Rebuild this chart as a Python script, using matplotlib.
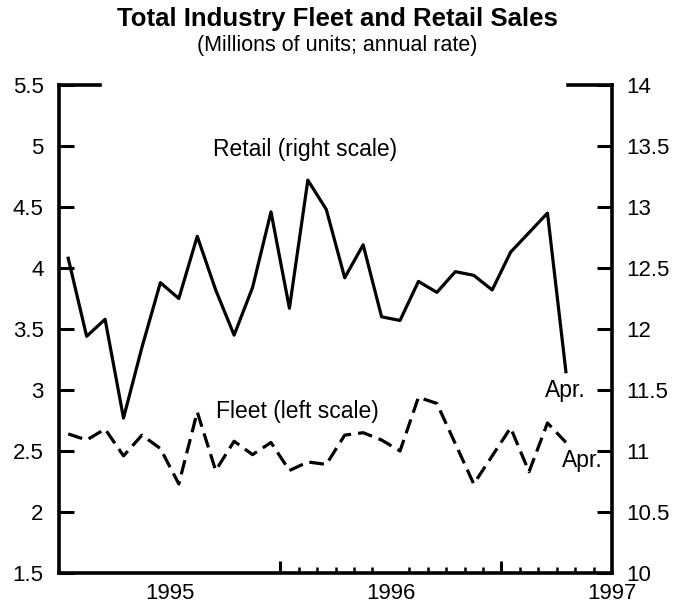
import matplotlib
matplotlib.use("Agg")
import matplotlib.pyplot as plt
import numpy as np
import pandas as pd

# monthly observations, Jan 1995 - Apr 1997
months = pd.period_range("1995-01", "1997-04", freq="M")

# retail sales, right scale (millions, annual rate)
retail = [12.58, 11.94, 12.08, 11.27, 11.85, 12.38, 12.25, 12.76, 12.32, 11.95,
          12.34, 12.96, 12.17, 13.22, 12.98, 12.42, 12.69, 12.10, 12.07, 12.39,
          12.30, 12.47, 12.44, 12.32, 12.63, 12.79, 12.95, 11.65]

# fleet sales, left scale
fleet = [2.64, 2.59, 2.68, 2.46, 2.63, 2.52, 2.23, 2.82, 2.34, 2.58,
         2.47, 2.57, 2.34, 2.41, 2.39, 2.63, 2.65, 2.59, 2.50, 2.94,
         2.89, 2.56, 2.23, 2.46, 2.69, 2.33, 2.73, 2.57]

left_ticks = [1.5, 2, 2.5, 3, 3.5, 4, 4.5, 5, 5.5]
right_ticks = [10, 10.5, 11, 11.5, 12, 12.5, 13, 13.5, 14]
year_labels = ["1995", "1996", "1997"]

FONT = "Liberation Sans"
plt.rcParams["font.family"] = [FONT, "DejaVu Sans"]
LABEL_SIZE = 16
NOTE_SIZE = 16.5

# month index from Jan 1995, plotted at mid-month
x = np.array([(p.year - 1995) * 12 + p.month - 1 for p in months]) + 0.5

fig = plt.figure(figsize=(6.75, 6.10), dpi=100)
ax = fig.add_axes([59 / 675, 1 - 573 / 610, 553 / 675, 488 / 610])
ax2 = ax.twinx()

lw = 2.3
ax.plot(x, fleet, color="black", linewidth=lw, linestyle=(0, (4.6, 2.2)))
ax2.plot(x, retail, color="black", linewidth=lw)

ax.set_xlim(0, 30)
ax.set_ylim(1.5, 5.5)
ax2.set_ylim(10, 14)

ax.set_yticks(left_ticks, labels=[f"{v:g}" for v in left_ticks])
ax2.set_yticks(right_ticks, labels=[f"{v:g}" for v in right_ticks])
ax.tick_params(axis="y", direction="in", length=11, width=2.2, pad=11, labelsize=LABEL_SIZE)
ax2.tick_params(axis="y", direction="in", length=11, width=2.2, pad=10, labelsize=LABEL_SIZE)

# year labels centred in each year, month ticks from 1996 on
ax.set_xticks([6, 18, 30], labels=year_labels)
ax.set_xticks(np.arange(12, 30), minor=True)
ax.tick_params(axis="x", which="major", length=0, pad=7, labelsize=LABEL_SIZE)
ax.tick_params(axis="x", which="minor", direction="in", length=4, width=1.8)
sec = ax.secondary_xaxis("bottom")
sec.set_xticks([12, 24], labels=["", ""])
sec.tick_params(direction="in", length=9, width=2.2)
for s in sec.spines.values():
    s.set_visible(False)

for name in ["top", "right"]:
    ax.spines[name].set_visible(False)
for name in ["top", "left", "bottom"]:
    ax2.spines[name].set_visible(False)
for s in [ax.spines["left"], ax.spines["bottom"], ax2.spines["right"]]:
    s.set_linewidth(2.6)

# long top ticks at the ends of each scale
ax.axhline(5.5, xmin=0, xmax=0.074, color="black", linewidth=2.6, clip_on=False)
ax2.axhline(14, xmin=0.92, xmax=1, color="black", linewidth=2.6, clip_on=False)

ax2.text(13.35, 13.47, "Retail (right scale)", ha="center", va="center", fontsize=NOTE_SIZE)
ax.text(8.5, 2.82, "Fleet (left scale)", ha="left", va="center", fontsize=NOTE_SIZE)
ax2.text(28.55, 11.5, "Apr.", ha="right", va="center", fontsize=NOTE_SIZE)
ax.text(29.5, 2.42, "Apr.", ha="right", va="center", fontsize=NOTE_SIZE)

fig.text(0.5, 1 - 19 / 610, "Total Industry Fleet and Retail Sales",
         ha="center", va="center", fontsize=18.5, fontweight="bold")
fig.text(0.5, 1 - 46 / 610, "(Millions of units; annual rate)",
         ha="center", va="center", fontsize=15.5)

fig.savefig("out.png", dpi=100)
